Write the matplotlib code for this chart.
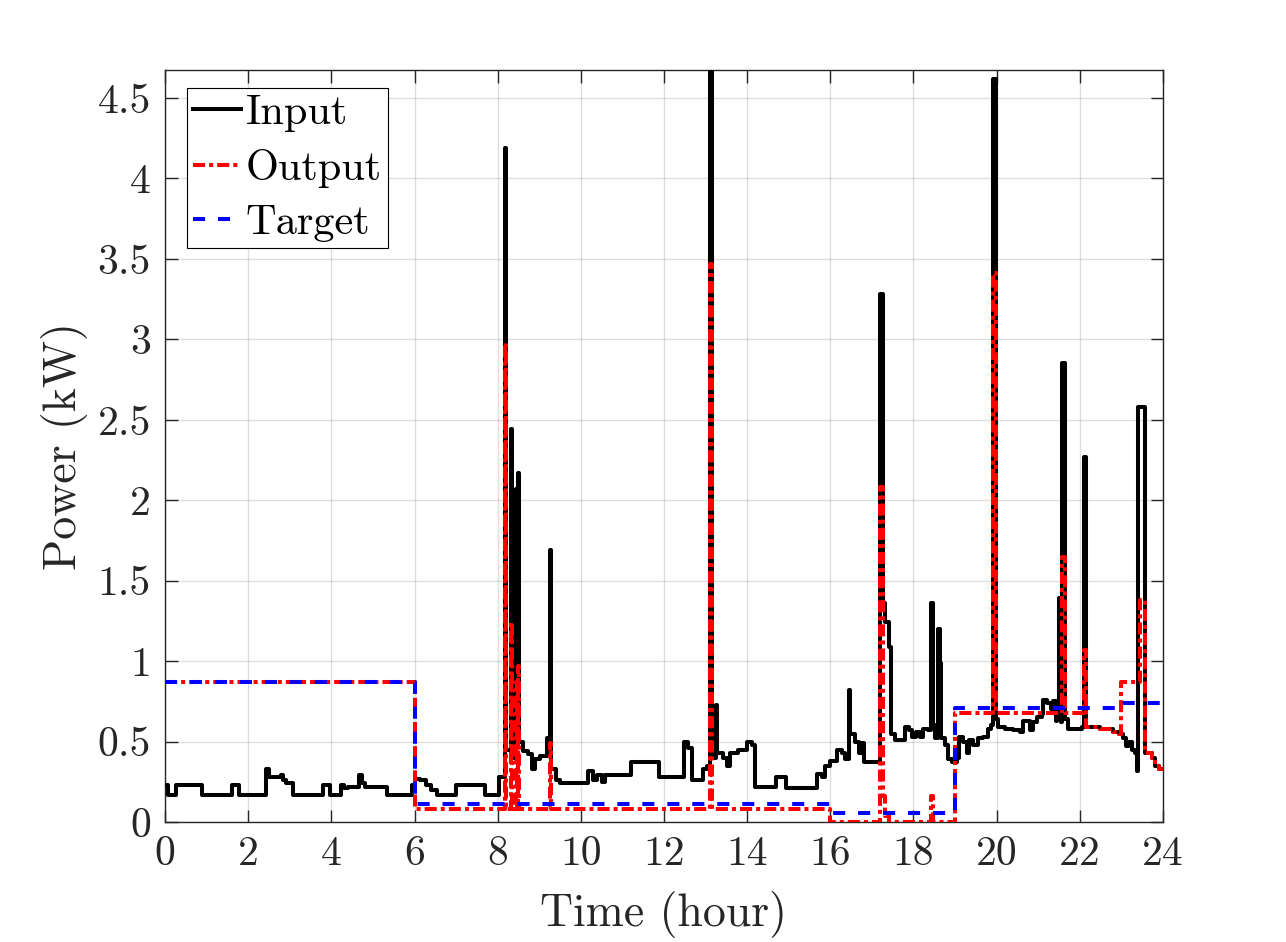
import matplotlib
matplotlib.use("Agg")
import matplotlib.pyplot as plt

# ---------------- data (hours, kW) ----------------
input_t = [0.00, 0.08, 0.26, 0.88, 1.60, 1.78, 2.43, 2.50, 2.78, 2.84, 2.92, 3.09,
           3.79, 3.97, 4.23, 4.30, 4.40, 4.55, 4.67, 4.74, 4.80, 5.33, 5.93, 6.00,
           6.13, 6.28, 6.40, 6.53, 7.01, 7.70, 8.03, 8.17, 8.21, 8.32, 8.35, 8.44,
           8.46, 8.49, 8.52, 8.62, 8.74, 8.82, 8.90, 9.02, 9.19, 9.26, 9.29, 9.40,
           9.50, 10.18, 10.30, 10.40, 10.50, 10.58, 11.20, 11.88, 12.49, 12.58, 12.67,
           12.93, 13.03, 13.10, 13.15, 13.24, 13.28, 13.43, 13.51, 13.59, 13.79, 13.99,
           14.11, 14.19, 14.69, 14.93, 15.69, 15.79, 15.87, 15.99, 16.15, 16.27, 16.35,
           16.44, 16.48, 16.59, 16.68, 16.76, 16.80, 17.20, 17.26, 17.32, 17.40, 17.47,
           17.56, 17.80, 17.88, 17.96, 18.05, 18.15, 18.24, 18.36, 18.42, 18.46, 18.52,
           18.58, 18.63, 18.67, 18.76, 18.84, 18.92, 19.04, 19.10, 19.20, 19.28, 19.34,
           19.44, 19.56, 19.68, 19.80, 19.86, 19.92, 19.98, 20.04, 20.20, 20.40, 20.56,
           20.64, 20.80, 20.88, 20.96, 21.08, 21.12, 21.22, 21.30, 21.36, 21.42, 21.46,
           21.50, 21.54, 21.58, 21.64, 21.72, 22.05, 22.11, 22.16, 22.49, 22.80, 22.95,
           23.05, 23.11, 23.18, 23.25, 23.33, 23.37, 23.41, 23.57, 23.61, 23.73, 23.81,
           23.90, 24.00]
input_kw = [0.23, 0.17, 0.23, 0.17, 0.23, 0.17, 0.33, 0.28, 0.29, 0.26, 0.24, 0.17,
            0.23, 0.17, 0.23, 0.21, 0.22, 0.22, 0.29, 0.24, 0.22, 0.17, 0.23, 0.27,
            0.26, 0.23, 0.20, 0.17, 0.23, 0.17, 0.28, 4.19, 0.45, 2.44, 0.40, 2.07,
            0.60, 2.17, 0.50, 0.44, 0.42, 0.33, 0.39, 0.41, 0.52, 1.69, 0.33, 0.26,
            0.245, 0.32, 0.26, 0.29, 0.25, 0.29, 0.37, 0.28, 0.50, 0.46, 0.26,
            0.33, 0.35, 4.674, 0.40, 0.73, 0.43, 0.40, 0.35, 0.43, 0.45, 0.50,
            0.48, 0.22, 0.28, 0.21, 0.30, 0.28, 0.35, 0.38, 0.45, 0.43, 0.39,
            0.82, 0.55, 0.50, 0.43, 0.49, 0.37, 3.28, 1.36, 1.24, 1.09, 0.55,
            0.51, 0.59, 0.57, 0.53, 0.56, 0.53, 0.58, 0.57, 1.36, 0.60, 0.52,
            1.20, 0.99, 0.52, 0.48, 0.39, 0.37, 0.40, 0.53, 0.50, 0.43, 0.51,
            0.48, 0.52, 0.53, 0.58, 0.60, 4.62, 0.64, 0.59, 0.58, 0.57, 0.56,
            0.63, 0.57, 0.62, 0.65, 0.67, 0.76, 0.74, 0.70, 0.75, 0.63, 0.70,
            1.39, 0.62, 2.85, 0.64, 0.58, 0.59, 2.27, 0.59, 0.575, 0.56, 0.55,
            0.52, 0.47, 0.50, 0.45, 0.43, 0.32, 2.58, 0.43, 0.43, 0.40, 0.35,
            0.33, 0.33]

output_t = [0.00, 6.00, 8.17, 8.21, 8.32, 8.35, 8.44, 8.46, 8.49, 8.52, 9.26, 9.29,
            13.10, 13.15, 16.00, 17.20, 17.26, 17.32, 17.40, 18.42, 18.46, 19.00,
            19.92, 19.98, 21.58, 21.64, 22.11, 22.16, 22.49, 22.80, 22.95, 23.00,
            23.45, 23.57, 23.61, 23.73, 23.81, 23.90, 24.00]
output_kw = [0.87, 0.08, 2.98, 0.08, 1.24, 0.08, 0.87, 0.08, 0.97, 0.08, 0.49, 0.08,
             3.47, 0.08, 0.00, 2.08, 0.16, 0.04, 0.00, 0.16, 0.00, 0.68,
             3.41, 0.68, 1.65, 0.68, 1.07, 0.59, 0.575, 0.56, 0.55, 0.87,
             1.38, 0.43, 0.43, 0.40, 0.35, 0.33, 0.33]

target_t = [0.0, 6.0, 16.0, 19.0, 23.0, 24.0]
target_kw = [0.87, 0.11, 0.055, 0.71, 0.74, 0.74]

x_ticks = list(range(0, 25, 2))
y_ticks = [0, 0.5, 1, 1.5, 2, 2.5, 3, 3.5, 4, 4.5]
y_tick_labels = ["0", "0.5", "1", "1.5", "2", "2.5", "3", "3.5", "4", "4.5"]

# ---------------- style ----------------
plt.rcParams["font.family"] = ["cmr10", "DejaVu Serif"]
plt.rcParams["axes.formatter.use_mathtext"] = True
plt.rcParams["mathtext.fontset"] = "cm"
txt = "#262626"

fig = plt.figure(figsize=(12.86, 9.42), dpi=100)
ax = fig.add_axes([165 / 1286, 1 - 822 / 942, 998 / 1286, 752 / 942])

lw = 2.9
ax.plot(input_t, input_kw, drawstyle="steps-post", color="black", lw=lw,
        label="Input", zorder=3)
ax.plot(output_t, output_kw, drawstyle="steps-post", color="red", lw=lw,
        linestyle=(0, (3.0, 1.0, 1.0, 1.0)), label="Output", zorder=4)
ax.plot(target_t, target_kw, drawstyle="steps-post", color="blue", lw=lw,
        linestyle=(0, (3.0, 3.2)), label="Target", zorder=5)

ax.set_xlim(0, 24)
ax.set_ylim(0, 4.674)
ax.set_xticks(x_ticks)
ax.set_xticklabels([str(v) for v in x_ticks])
ax.set_yticks(y_ticks)
ax.set_yticklabels(y_tick_labels)

ax.grid(True, color="#262626", alpha=0.15, lw=1.0)
ax.set_axisbelow(True)
ax.tick_params(direction="in", top=True, right=True, length=9, width=1.0,
               colors=txt, labelsize=30, pad=10)
for s in ax.spines.values():
    s.set_color(txt)
    s.set_linewidth(1.0)

ax.set_xlabel("Time (hour)", fontsize=33, color=txt, labelpad=13)
ax.set_ylabel("Power (kW)", fontsize=33, color=txt, labelpad=7)

leg = ax.legend(loc="upper left", bbox_to_anchor=(0.022, 0.976), borderaxespad=0,
                fontsize=30.5, frameon=True, fancybox=False, framealpha=1,
                edgecolor="black", handlelength=1.13, handletextpad=0.1,
                labelspacing=0.39, borderpad=0.15)
leg.get_frame().set_linewidth(0.8)

fig.savefig("out.png", dpi=100, facecolor="white")
